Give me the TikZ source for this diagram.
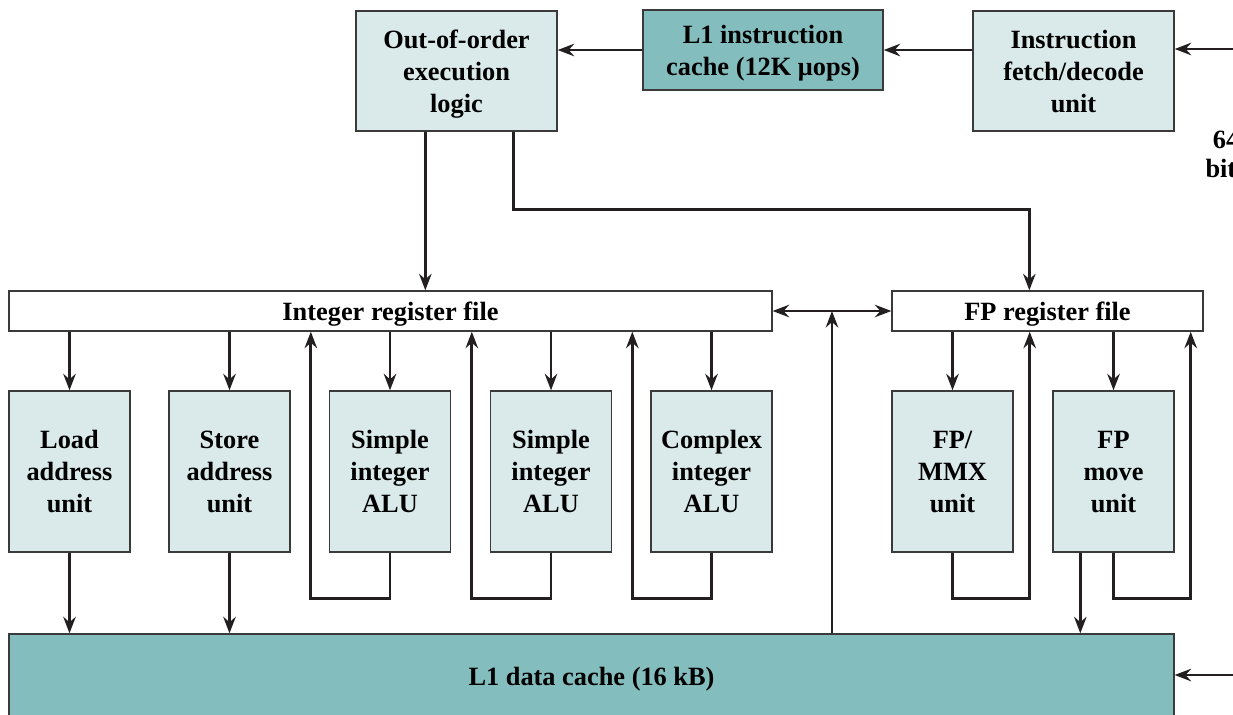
\documentclass[tikz,border=0pt]{standalone}
\usepackage{fontspec}
\setmainfont{Liberation Serif}
\usepackage{xcolor}
\usetikzlibrary{calc,arrows.meta}
\definecolor{unitFill}{HTML}{DAE9E9}
\definecolor{cacheTeal}{HTML}{84BDBE}
\definecolor{boxLine}{HTML}{3A3A3A}
\definecolor{flowDark}{HTML}{231F20}
\tikzset{
  unitbox/.style={rectangle, draw=boxLine, fill=unitFill, line width=0.8pt, align=center, font=\bfseries\fontsize{15}{18.2}\selectfont, text depth=-0.14cm, minimum width=2.42cm, minimum height=3.22cm, inner sep=2pt},
  topbox/.style={rectangle, draw=boxLine, fill=#1, line width=0.8pt, align=center, font=\bfseries\fontsize{15}{18.2}\selectfont, text depth=-0.06cm, minimum height=2.4cm, inner sep=2pt},
  regbox/.style={rectangle, draw=boxLine, fill=white, line width=0.8pt, align=center, font=\bfseries\fontsize{15}{18.2}\selectfont, text depth=-0.06cm, minimum height=0.8cm, inner sep=2pt},
  cachebox/.style={rectangle, draw=boxLine, fill=cacheTeal, line width=0.8pt, align=center, font=\bfseries\fontsize{15}{18.2}\selectfont, text depth=-0.06cm, inner sep=2pt},
  sidelabel/.style={align=center, font=\bfseries\fontsize{15}{16.4}\selectfont, inner sep=0pt},
  flowarrow/.style={-{Stealth[length=3.3mm,width=2.5mm,inset=1.1mm]}, line width=1.5pt, draw=flowDark},
  flowboth/.style={{Stealth[length=3.3mm,width=2.5mm,inset=1.1mm]}-{Stealth[length=3.3mm,width=2.5mm,inset=1.1mm]}, line width=1.5pt, draw=flowDark},
}
\begin{document}
\begin{tikzpicture}[x=0.02cm,y=-0.02cm]
  \useasboundingbox (0,0) rectangle (1233,714);

  % --- front end ---
  \node[topbox=unitFill, minimum width=4.02cm] (ooo) at (456.5,71) {Out-of-order\\execution\\logic};
  \node[topbox=cacheTeal, minimum width=4.8cm, minimum height=1.6cm] (icache) at (763,50) {L1 instruction\\cache (12K μops)};
  \node[topbox=unitFill, minimum width=4.02cm] (fetch) at (1073.5,71) {Instruction\\fetch/decode\\unit};
  \node[sidelabel] (bus64) at (1226,154) {64\\bits};

  % --- register files ---
  \node[regbox, minimum width=15.26cm] (intreg) at (390.5,311) {Integer register file};
  \node[regbox, minimum width=6.22cm] (fpreg) at (1047.5,311) {FP register file};

  % --- execution units ---
  \node[unitbox] (load)   at (69.5,471.5)   {Load\\address\\unit};
  \node[unitbox] (store)  at (229.5,471.5)  {Store\\address\\unit};
  \node[unitbox] (simpA)  at (390,471.5)    {Simple\\integer\\ALU};
  \node[unitbox] (simpB)  at (551,471.5)    {Simple\\integer\\ALU};
  \node[unitbox] (cplx)   at (711.5,471.5)  {Complex\\integer\\ALU};
  \node[unitbox] (fpmmx)  at (952.5,471.5)  {FP/\\MMX\\unit};
  \node[unitbox] (fpmove) at (1113.5,471.5) {FP\\move\\unit};

  \node[cachebox, minimum width=23.3cm, minimum height=1.68cm] (dcache) at (591.5,676) {L1 data cache (16 kB)};

  % --- front end flow ---
  \coordinate (extA) at (1240,49);
  \coordinate (extB) at (1240,675);
  \draw[flowarrow] (extA) -- (extA -| fetch.east);
  \draw[flowarrow] (icache.east -| fetch.west) -- (icache.east);
  \draw[flowarrow] (icache.west) -- (icache.west -| ooo.east);
  \path (ooo.south west) ++(70,0) coordinate (oooL);
  \path (ooo.south east) ++(-44,0) coordinate (oooR);
  \path (fpreg.north west) ++(138,0) coordinate (fpin);
  \draw[flowarrow] (oooL) -- (oooL |- intreg.north);
  \draw[flowarrow] (oooR) -- ++(0,78) -| (fpin);

  % --- register file links ---
  \coordinate (busmid) at ($(intreg.east)!0.5!(fpreg.west)$);
  \draw[flowboth] (intreg.east) -- (fpreg.west);
  \draw[flowarrow] (dcache.north -| busmid) -- (busmid);
  \draw[flowarrow] (extB) -- (extB -| dcache.east);

  \foreach \u in {load,store,simpA,simpB,cplx} { \draw[flowarrow] (intreg.south -| \u.north) -- (\u.north); }
  \foreach \u in {fpmmx,fpmove} { \draw[flowarrow] (fpreg.south -| \u.north) -- (\u.north); }
  \foreach \u in {load,store} { \draw[flowarrow] (\u.south) -- (\u.south |- dcache.north); }

  % --- result feedback ---
  \foreach \u in {simpA,simpB,cplx} {
    \path (intreg.south -| \u.west) ++(-18,0) coordinate (\u-fb);
    \draw[flowarrow] (\u.south) -- ++(0,46) -| (\u-fb);
  }
  \foreach \u in {fpmmx,fpmove} {
    \path (fpreg.south -| \u.east) ++(16,0) coordinate (\u-fb);
    \draw[flowarrow] (\u.south) -- ++(0,46) -| (\u-fb);
  }
  \path (fpmove.south west) ++(28,0) coordinate (mvout);
  \draw[flowarrow] (mvout) -- (mvout |- dcache.north);
\end{tikzpicture}
\end{document}
